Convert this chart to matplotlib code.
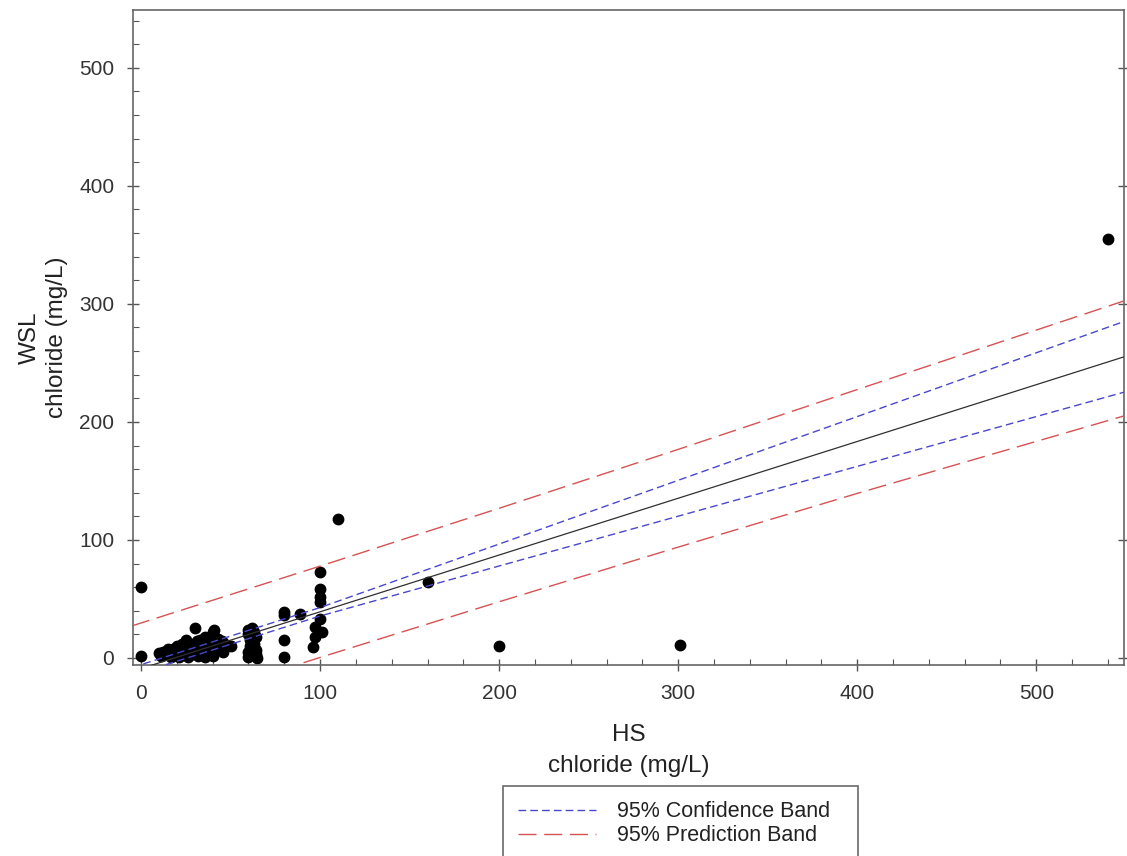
import matplotlib
matplotlib.use("Agg")
import matplotlib.pyplot as plt
from matplotlib.ticker import MultipleLocator

plt.rcParams['font.family'] = ['Liberation Sans', 'DejaVu Sans']
plt.rcParams['lines.scale_dashes'] = False

# HS vs WSL chloride (mg/L)
hs = [0, 0, 10, 11, 12, 15, 15, 17, 18, 20, 20, 21, 22, 23, 24, 25, 25, 26, 27, 28,
      29, 30, 30, 31, 32, 33, 34, 35, 35, 36, 37, 38, 40, 40, 40, 40, 40, 40, 41, 42,
      44, 45, 48, 50, 15, 18, 20, 22, 26, 28, 30, 33, 34, 36, 38, 43, 46,
      60, 60, 61, 61, 60, 60, 63, 64, 63, 64, 64, 65, 62,
      80, 80, 89, 80, 80, 96, 97, 97, 101, 100, 100, 100, 100, 100, 110,
      160, 200, 301, 540]
wsl = [60, 2, 4, 2, 5, 3, 6, 1, 8, 4, 10, 1, 6, 12, 3, 8, 15, 1, 5, 11,
       3, 7, 25, 14, 2, 10, 5, 16, 8, 1, 12, 4, 22, 18, 14, 10, 6, 2, 24, 12,
       8, 14, 11, 10, 8, 3, 7, 9, 12, 6, 10, 15, 12, 18, 10, 16, 5,
       24, 20, 15, 10, 5, 1, 22, 18, 12, 7, 3, 0, 25,
       39, 36, 37, 15, 1, 9, 18, 26, 22, 33, 47, 52, 58, 73, 118,
       64, 10, 11, 355]

# regression line and 95% bands, evaluated along HS
band_x = [-5, 100, 200, 300, 400, 550]
fit_y = [-11.4, 39.1, 87.2, 135.3, 183.4, 255.6]
conf_hi = [-8.1, 42.7, 96.5, 150.5, 204.5, 285.6]
conf_lo = [-14.7, 35.5, 77.9, 120.1, 162.3, 225.6]
pred_hi = [27.2, 77.8, 126.8, 176.7, 227.4, 303.0]
pred_lo = [-50.0, 0.4, 47.6, 93.9, 139.4, 205.5]

blue = '#4848cc'
red = '#d65252'

fig = plt.figure(figsize=(11.27, 8.56), dpi=100)
ax = fig.add_axes([0.118, 0.2231, 0.8793, 0.7652])

ax.plot(hs, wsl, 'o', color='black', ms=7.5, mec='black', zorder=2)
ax.plot(band_x, fit_y, '-', color='#303030', lw=0.9, zorder=3)
ax.plot(band_x, conf_hi, color=blue, lw=1.0, dashes=(5.5, 3.0), zorder=3,
        label='95% Confidence Band')
ax.plot(band_x, conf_lo, color=blue, lw=1.0, dashes=(5.5, 3.0), zorder=3)
ax.plot(band_x, pred_hi, color=red, lw=1.0, dashes=(13, 5.5), zorder=3,
        label='95% Prediction Band')
ax.plot(band_x, pred_lo, color=red, lw=1.0, dashes=(13, 5.5), zorder=3)

ax.set_xlim(-4.5, 549)
ax.set_ylim(-6, 549)
for a in (ax.xaxis, ax.yaxis):
    a.set_major_locator(MultipleLocator(100))
    a.set_minor_locator(MultipleLocator(20))
ax.tick_params(which='major', direction='inout', length=9, width=1.0,
               color='#555555', labelsize=15, labelcolor='#333333', right=True)
ax.tick_params(axis='x', which='major', pad=9)
ax.tick_params(axis='y', which='major', pad=9)
ax.tick_params(which='minor', direction='in', length=4, width=0.8,
               color='#555555')
for sp in ax.spines.values():
    sp.set_color('#666666')
    sp.set_linewidth(1.2)

ax.set_xlabel('HS\nchloride (mg/L)', fontsize=17.5, color='#222222', linespacing=1.55)
ax.set_ylabel('WSL\nchloride (mg/L)', fontsize=17.5, color='#222222', linespacing=1.3)
ax.xaxis.set_label_coords(0.5, -0.09)
ax.yaxis.set_label_coords(-0.066, 0.5)

leg = fig.legend(loc='upper left',
                 bbox_to_anchor=(503 / 1127, 1 - 786 / 856 - 0.01, 355 / 1127, 0.01),
                 mode='expand', borderaxespad=0, fontsize=15.5, handlelength=3.6,
                 handletextpad=1.0, labelspacing=0.15, borderpad=0.7,
                 fancybox=False, frameon=True)
leg.get_frame().set_edgecolor('#444444')
leg.get_frame().set_linewidth(1.2)
for t in leg.get_texts():
    t.set_color('#222222')

fig.savefig('out.png', dpi=100)
